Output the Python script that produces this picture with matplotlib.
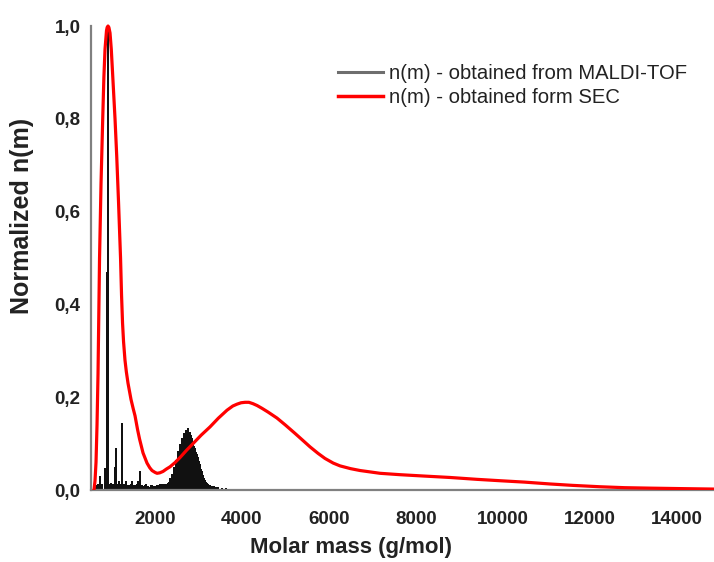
import numpy as np
import matplotlib
matplotlib.use("Agg")
import matplotlib.pyplot as plt
from matplotlib.lines import Line2D

plt.rcParams['font.family'] = ['Liberation Sans', 'DejaVu Sans']

# SEC-derived number distribution (molar mass, normalized n(m))
sec_mass = [598, 621, 644, 667, 690, 725, 759, 798, 825, 851, 885, 900, 920,
            940, 966, 995, 1024, 1081, 1120, 1162, 1208, 1231, 1254, 1277,
            1310, 1341, 1380, 1449, 1500, 1541, 1600, 1645, 1725, 1817, 1880,
            1932, 2000, 2047, 2110, 2185, 2260, 2346, 2460, 2576, 2720, 2875,
            3060, 3266, 3460, 3657, 3790, 3887, 3980, 4071, 4160, 4255, 4350,
            4462, 4600, 4807, 5000, 5221, 5400, 5566, 5750, 5911, 6100, 6256,
            6500, 6716, 7176, 7636, 8200, 8786, 9400, 9936, 10500, 11086, 11600,
            12236, 12800, 13386, 14100, 14858]
sec_n = [0.0, 0.02, 0.06, 0.14, 0.25, 0.50, 0.66, 0.80, 0.89, 0.95, 0.99, 0.997, 1.0,
         0.997, 0.985, 0.95, 0.90, 0.80, 0.72, 0.62, 0.50, 0.42, 0.36, 0.32,
         0.28, 0.255, 0.23, 0.195, 0.175, 0.16, 0.13, 0.11, 0.08, 0.058, 0.048,
         0.042, 0.038, 0.036, 0.037, 0.04, 0.045, 0.05, 0.059, 0.07, 0.085, 0.10,
         0.118, 0.136, 0.155, 0.172, 0.181, 0.185, 0.188, 0.189, 0.189, 0.186, 0.182,
         0.176, 0.168, 0.155, 0.140, 0.122, 0.107, 0.093, 0.079, 0.068, 0.058, 0.052,
         0.046, 0.042, 0.036, 0.033, 0.030, 0.027, 0.023, 0.020, 0.017, 0.013, 0.010,
         0.007, 0.005, 0.004, 0.003, 0.002]

# MALDI-TOF peak list (molar mass, normalized intensity)
maldi_mass = [598, 644, 690, 736, 782, 844, 904, 920, 966, 989, 1035, 1074,
              1111, 1150, 1173, 1219, 1249, 1288, 1334, 1380, 1403, 1449, 1479,
              1518, 1541, 1587, 1610, 1649, 1702, 1725, 1771, 1794, 1840, 1863,
              1909, 1932, 1978, 2001, 2047, 2070, 2116, 2139, 2185, 2208,
              2231, 2254, 2277, 2300, 2323, 2346, 2369, 2392, 2415, 2438, 2461,
              2484, 2507, 2530, 2553, 2576, 2599, 2622, 2645, 2668, 2691, 2714,
              2737, 2760, 2783, 2806, 2829, 2852, 2875, 2898, 2921, 2944, 2967,
              2990, 3013, 3036, 3059, 3082, 3105, 3128, 3151, 3174, 3197, 3220,
              3266, 3312, 3358, 3404, 3450, 3542, 3634, 3726, 3818, 3910, 4002]
maldi_n = [0.008, 0.01, 0.012, 0.03, 0.012, 0.047, 0.47, 1.0, 0.012, 0.015, 0.012, 0.05,
           0.09, 0.012, 0.02, 0.012, 0.145, 0.012, 0.02, 0.01, 0.01, 0.012, 0.02,
           0.01, 0.01, 0.012, 0.02, 0.042, 0.01, 0.008, 0.01, 0.012, 0.008, 0.006,
           0.01, 0.01, 0.008, 0.008, 0.01, 0.01, 0.012, 0.012, 0.012, 0.012,
           0.01, 0.012, 0.01, 0.015, 0.018, 0.025, 0.022, 0.035, 0.032, 0.05, 0.045,
           0.065, 0.058, 0.085, 0.078, 0.10, 0.094, 0.112, 0.105, 0.122, 0.112, 0.13,
           0.122, 0.133, 0.12, 0.125, 0.118, 0.113, 0.104, 0.095, 0.09, 0.082, 0.078,
           0.072, 0.062, 0.055, 0.046, 0.04, 0.032, 0.025, 0.021, 0.018, 0.015, 0.014,
           0.011, 0.009, 0.008, 0.007, 0.006, 0.005, 0.004, 0.003, 0.002, 0.002, 0.001]

x_ticks = [2000, 4000, 6000, 8000, 10000, 12000, 14000]
y_ticks = [0.0, 0.2, 0.4, 0.6, 0.8, 1.0]
y_tick_labels = ["0,0", "0,2", "0,4", "0,6", "0,8", "1,0"]

W, H = 714, 562
fig = plt.figure(figsize=(W / 100, H / 100), dpi=100)
ax = fig.add_axes([91.5 / W, 72 / H, (W - 91.5) / W, 1.02 * 464 / H])

# stick spectrum drawn as one continuous trace along the baseline
m = np.asarray(maldi_mass, dtype=float)
h = np.asarray(maldi_n, dtype=float)
sx = np.repeat(m, 3)
sy = np.column_stack([np.zeros_like(h), h, np.zeros_like(h)]).ravel()
ax.plot(sx, sy, color='#111111', lw=1.1, solid_joinstyle='miter', zorder=2)

ax.plot(sec_mass, sec_n, color='#ff0000', lw=2.3, solid_joinstyle='round',
        solid_capstyle='round', zorder=3)

ax.set_xlim(540, 14858)
ax.set_ylim(0, 1.02)

for s in ('top', 'right'):
    ax.spines[s].set_visible(False)
for s in ('left', 'bottom'):
    ax.spines[s].set_color('#808080')
    ax.spines[s].set_linewidth(1.6)
ax.spines['left'].set_bounds(0, 1.0)

ax.set_xticks(x_ticks)
ax.set_xticklabels([str(v) for v in x_ticks], fontsize=13.5, fontweight='bold')
ax.set_yticks(y_ticks)
ax.set_yticklabels(y_tick_labels, fontsize=13.5, fontweight='bold')
ax.tick_params(axis='x', length=0, pad=15, colors='#222222')
ax.tick_params(axis='y', length=0, pad=8, colors='#222222')

fig.text(351 / W, 1 - 548 / H, "Molar mass (g/mol)", ha='center', va='center',
         fontsize=16, fontweight='bold', color='#222222')
fig.text(22 / W, 1 - 216 / H, "Normalized n(m)", ha='center', va='center',
         rotation=90, fontsize=18, fontweight='bold', color='#222222')

handles = [Line2D([], [], color='#6e6e6e', lw=2.2),
           Line2D([], [], color='#ff0000', lw=2.5)]
labels = ["n(m) - obtained from MALDI-TOF", "n(m) - obtained form SEC"]
fig.legend(handles, labels, loc='upper left',
           bbox_to_anchor=(338 / W, 1 - 64 / H), frameon=False,
           fontsize=14.6, borderpad=0, borderaxespad=0, labelspacing=0.25,
           handlelength=2.2, handletextpad=0.3, labelcolor='#222222')

fig.savefig("out.png", dpi=100)
